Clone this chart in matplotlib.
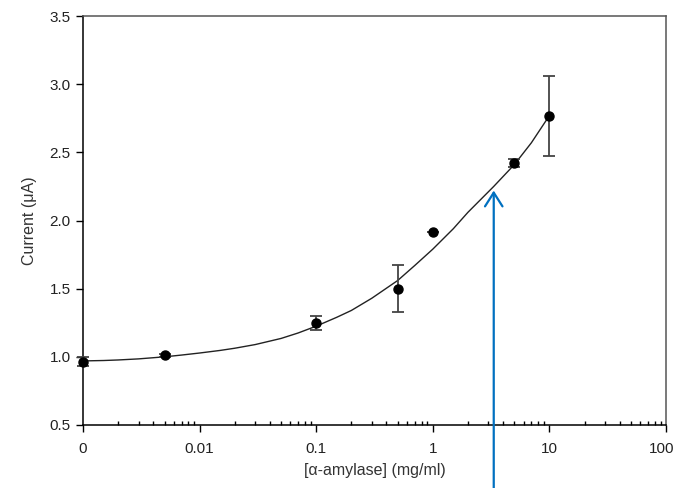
import matplotlib
matplotlib.use("Agg")
import matplotlib.pyplot as plt
import matplotlib.transforms as mtransforms
from matplotlib.ticker import LogLocator, FixedLocator, NullFormatter

plt.rcParams['font.family'] = ['Liberation Sans', 'DejaVu Sans']

# Messpunkte (x=0.001 steht fuer die Konzentration 0)
conc = [0.001, 0.005, 0.1, 0.5, 1, 5, 10]
current = [0.965, 1.012, 1.25, 1.50, 1.918, 2.42, 2.765]
err = [0.035, 0.012, 0.05, 0.17, 0.0, 0.03, 0.295]

# Angepasste Kurve, Punkte
fit_x = [0.001, 0.0015, 0.002, 0.003, 0.005, 0.007, 0.01, 0.015, 0.02, 0.03,
         0.05, 0.07, 0.1, 0.15, 0.2, 0.3, 0.5, 0.7, 1, 1.5, 2, 3.33, 5, 7, 10]
fit_y = [0.970, 0.973, 0.977, 0.985, 1.000, 1.013, 1.028, 1.047, 1.063, 1.090,
         1.135, 1.175, 1.225, 1.290, 1.340, 1.430, 1.560, 1.670, 1.790, 1.940,
         2.060, 2.250, 2.410, 2.570, 2.770]

# Pfeil
arrow_x = 3.33
arrow_tip = 2.24

xtick_pos = [0.001, 0.01, 0.1, 1, 10, 100]
xtick_labels = ["0", "0.01", "0.1", "1", "10", "100"]
ytick_pos = [0.5, 1.0, 1.5, 2.0, 2.5, 3.0, 3.5]

fig = plt.figure(figsize=(6.77, 4.88), dpi=100)
ax = fig.add_axes([0.1226, 0.1291, 0.8612, 0.8381])

ax.plot(fit_x, fit_y, color="#222222", lw=1.0, zorder=2)
ax.errorbar(conc, current, yerr=err, fmt="o", color="black", ms=6.5,
            ecolor="#444444", elinewidth=1.3, capsize=4, capthick=1.3,
            zorder=3, clip_on=False)

ax.annotate("", xy=(arrow_x, arrow_tip), xytext=(arrow_x, -0.2),
            arrowprops=dict(arrowstyle="->, head_length=0.55, head_width=0.35",
                            color="#0070C0", lw=1.6, mutation_scale=18),
            annotation_clip=False, zorder=4)

ax.set_xscale("log")
ax.set_xlim(0.001, 100)
ax.set_ylim(0.5, 3.5)

ax.xaxis.set_major_locator(FixedLocator(xtick_pos))
ax.set_xticklabels(xtick_labels)
ax.xaxis.set_minor_locator(LogLocator(base=10, subs=range(2, 10), numticks=20))
ax.xaxis.set_minor_formatter(NullFormatter())
ax.set_yticks(ytick_pos)
ax.set_yticklabels([f"{v:.1f}" for v in ytick_pos])

ax.tick_params(axis="x", which="major", direction="out", length=5, width=1,
               labelsize=11, labelcolor="#222222", pad=7)
ax.tick_params(axis="x", which="minor", direction="in", length=3, width=1)
ax.tick_params(axis="y", which="major", direction="out", length=5, width=1,
               labelsize=11, labelcolor="#222222", pad=4)
ax.tick_params(top=False, right=False, which="both")

# "100" etwas nach links schieben, damit es nicht abgeschnitten wird
last = ax.get_xticklabels()[-1]
last.set_transform(last.get_transform() +
                   mtransforms.ScaledTranslation(-4 / 100, 0, fig.dpi_scale_trans))

for s in ["left", "bottom"]:
    ax.spines[s].set_color("black")
    ax.spines[s].set_linewidth(1.1)
for s in ["top", "right"]:
    ax.spines[s].set_color("#555555")
    ax.spines[s].set_linewidth(1.1)

ax.set_xlabel("[\u03b1-amylase] (mg/ml)", fontsize=11.5, color="#333333", labelpad=5)
ax.set_ylabel("Current (\u03bcA)", fontsize=11.5, color="#333333", labelpad=9)

fig.savefig("out.png", dpi=100)
